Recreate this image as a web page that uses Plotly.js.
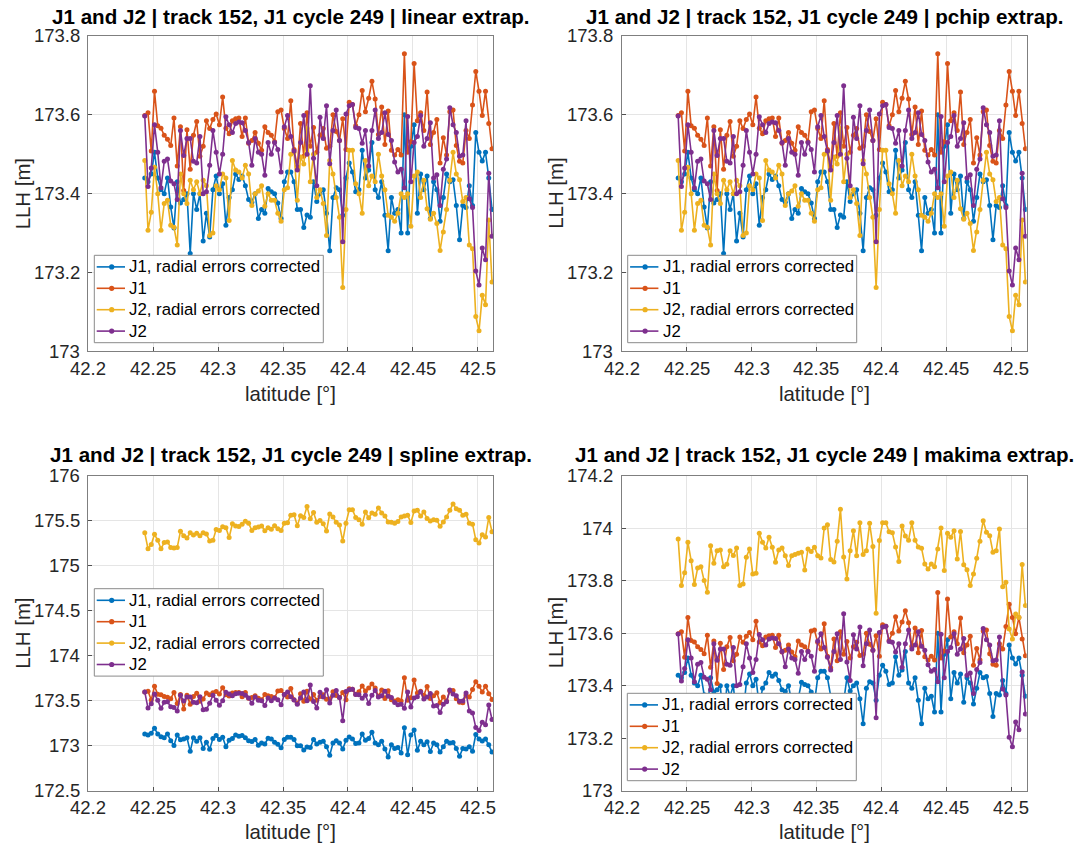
<!DOCTYPE html>
<html>
<head>
<meta charset="utf-8">
<script src="https://cdn.plot.ly/plotly-3.0.1.min.js"></script>
<style>
  html, body { margin: 0; padding: 0; background: #ffffff; }
  #chart { width: 1079px; height: 845px; }
</style>
</head>
<body>
<div id="chart"></div>
<script>
// ---------------- data ----------------
const latitude = [
  42.2435, 42.2460, 42.2485, 42.2510, 42.2535, 42.2560, 42.2585, 42.2610, 42.2635, 42.2660,
  42.2685, 42.2710, 42.2735, 42.2760, 42.2785, 42.2810, 42.2835, 42.2860, 42.2885, 42.2910,
  42.2935, 42.2960, 42.2985, 42.3010, 42.3035, 42.3060, 42.3085, 42.3110, 42.3135, 42.3160,
  42.3185, 42.3210, 42.3235, 42.3260, 42.3285, 42.3310, 42.3335, 42.3360, 42.3385, 42.3410,
  42.3435, 42.3460, 42.3485, 42.3510, 42.3535, 42.3560, 42.3585, 42.3610, 42.3635, 42.3660,
  42.3685, 42.3710, 42.3735, 42.3760, 42.3785, 42.3810, 42.3835, 42.3860, 42.3885, 42.3910,
  42.3935, 42.3960, 42.3985, 42.4010, 42.4035, 42.4060, 42.4085, 42.4110, 42.4135, 42.4160,
  42.4185, 42.4210, 42.4235, 42.4260, 42.4285, 42.4310, 42.4335, 42.4360, 42.4385, 42.4410,
  42.4435, 42.4460, 42.4485, 42.4510, 42.4535, 42.4560, 42.4585, 42.4610, 42.4635, 42.4660,
  42.4685, 42.4710, 42.4735, 42.4760, 42.4785, 42.4810, 42.4835, 42.4860, 42.4885, 42.4910,
  42.4935, 42.4960, 42.4985, 42.5010, 42.5035, 42.5060, 42.5085, 42.5110
];

// J1 (uncorrected) - same in all four panels
const j1 = [
  173.598, 173.605, 173.508, 173.660, 173.572, 173.566, 173.548, 173.538, 173.522, 173.592,
  173.470, 173.570, 173.408, 173.562, 173.462, 173.548, 173.583, 173.495, 173.520, 173.585,
  173.565, 173.588, 173.602, 173.575, 173.645, 173.566, 173.552, 173.585, 173.590, 173.592,
  173.545, 173.592, 173.528, 173.535, 173.555, 173.528, 173.510, 173.570, 173.555, 173.548,
  173.532, 173.608, 173.612, 173.565, 173.540, 173.636, 173.512, 173.468, 173.578, 173.495,
  173.605, 173.520, 173.568, 173.505, 173.548, 173.565, 173.515, 173.520, 173.600, 173.558,
  173.535, 173.590, 173.512, 173.632, 173.626, 173.572, 173.600, 173.662, 173.608, 173.642,
  173.685, 173.640, 173.550, 173.620, 173.525, 173.610, 173.510, 173.498, 173.512, 173.498,
  173.755, 173.505, 173.532, 173.730, 173.585, 173.605, 173.560, 173.658, 173.525, 173.555,
  173.588, 173.478, 173.542, 173.498, 173.608, 173.612, 173.522, 173.482, 173.478, 173.560,
  173.540, 173.625, 173.710, 173.660, 173.598, 173.660, 173.578, 173.514
];

// J2 (uncorrected) - same in all four panels
const j2 = [
  173.597, 173.418, 173.465, 173.575, 173.505, 173.415, 173.482, 173.488, 173.432, 173.425,
  173.385, 173.560, 173.497, 173.540, 173.540, 173.482, 173.478, 173.545, 173.400, 173.405,
  173.472, 173.560, 173.505, 173.450, 173.500, 173.595, 173.575, 173.555, 173.578, 173.582,
  173.580, 173.560, 173.530, 173.472, 173.540, 173.505, 173.500, 173.447, 173.530, 173.500,
  173.530, 173.512, 173.455, 173.570, 173.598, 173.545, 173.508, 173.460, 173.530, 173.598,
  173.500, 173.674, 173.490, 173.420, 173.594, 173.540, 173.623, 173.476, 173.560, 173.612,
  173.535, 173.278, 173.602, 173.623, 173.626, 173.568, 173.565, 173.528, 173.560, 173.470,
  173.560, 173.612, 173.540, 173.555, 173.605, 173.550, 173.535, 173.480, 173.455, 173.462,
  173.415, 173.596, 173.430, 173.530, 173.545, 173.598, 173.520, 173.540, 173.580, 173.440,
  173.448, 173.370, 173.462, 173.488, 173.618, 173.575, 173.555, 173.495, 173.498, 173.585,
  173.387, 173.365, 173.204, 173.168, 173.262, 173.232, 173.452, 173.292
];

// J1, radial errors corrected - linear extrapolation
const j1cLinear = [
  173.440, 173.430, 173.450, 173.505, 173.440, 173.410, 173.400, 173.440, 173.366, 173.313,
  173.430, 173.376, 173.385, 173.400, 173.248, 173.400, 173.360, 173.400, 173.280, 173.350,
  173.290, 173.410, 173.445, 173.400, 173.425, 173.320, 173.390, 173.410, 173.450, 173.436,
  173.445, 173.420, 173.385, 173.378, 173.400, 173.337, 173.360, 173.350, 173.413, 173.405,
  173.400, 173.376, 173.337, 173.430, 173.455, 173.455, 173.430, 173.360, 173.360, 173.314,
  173.346, 173.340, 173.430, 173.380, 173.400, 173.410, 173.350, 173.255, 173.390, 173.415,
  173.410, 173.345, 173.440, 173.478, 173.455, 173.405, 173.410, 173.510, 173.440, 173.460,
  173.530, 173.410, 173.390, 173.430, 173.345, 173.255, 173.390, 173.350, 173.360, 173.300,
  173.600, 173.300, 173.520, 173.575, 173.350, 173.450, 173.410, 173.445, 173.337, 173.430,
  173.410, 173.330, 173.390, 173.450, 173.430, 173.435, 173.370, 173.283, 173.370, 173.365,
  173.420, 173.370, 173.555, 173.505, 173.483, 173.505, 173.440, 173.360
];

// J2, radial errors corrected - linear extrapolation
const j2cLinear = [
  173.484, 173.307, 173.353, 173.467, 173.400, 173.307, 173.375, 173.383, 173.320, 173.315,
  173.270, 173.450, 173.400, 173.375, 173.434, 173.410, 173.430, 173.400, 173.434, 173.420,
  173.294, 173.300, 173.420, 173.410, 173.450, 173.440, 173.332, 173.484, 173.460, 173.455,
  173.440, 173.472, 173.450, 173.370, 173.400, 173.407, 173.420, 173.368, 173.400, 173.383,
  173.383, 173.350, 173.330, 173.410, 173.415, 173.500, 173.505, 173.383, 173.493, 173.475,
  173.565, 173.430, 173.500, 173.390, 173.410, 173.375, 173.294, 173.484, 173.450, 173.390,
  173.340, 173.162, 173.360, 173.510, 173.510, 173.425, 173.400, 173.350, 173.484, 173.420,
  173.445, 173.430, 173.500, 173.445, 173.410, 173.345, 173.340, 173.330, 173.350, 173.400,
  173.390, 173.400, 173.317, 173.445, 173.455, 173.390, 173.434, 173.362, 173.335, 173.350,
  173.324, 173.256, 173.303, 173.360, 173.434, 173.505, 173.450, 173.435, 173.380, 173.390,
  173.270, 173.260, 173.088, 173.052, 173.142, 173.118, 173.333, 173.176
];

// pchip extrapolation: visually identical to the linear panel
const j1cPchip = j1cLinear;
const j2cPchip = j2cLinear;

// J1, radial errors corrected - spline extrapolation
const j1cSpline = [
  173.130, 173.120, 173.140, 173.195, 173.130, 173.100, 173.090, 173.130, 173.056, 173.003,
  173.120, 173.066, 173.075, 173.090, 172.938, 173.090, 173.050, 173.090, 172.970, 173.040,
  172.960, 173.080, 173.115, 173.070, 173.095, 172.990, 173.060, 173.080, 173.120, 173.106,
  173.115, 173.090, 173.055, 173.048, 173.070, 173.007, 173.030, 173.020, 173.083, 173.075,
  173.040, 173.016, 172.977, 173.070, 173.095, 173.095, 173.070, 173.000, 173.000, 172.954,
  172.986, 172.980, 173.070, 173.020, 173.040, 173.050, 172.990, 172.895, 173.030, 173.055,
  173.030, 172.965, 173.060, 173.098, 173.075, 173.025, 173.030, 173.130, 173.060, 173.080,
  173.150, 173.030, 173.010, 173.050, 172.965, 172.875, 173.010, 172.970, 172.980, 172.920,
  173.200, 172.900, 173.120, 173.175, 172.950, 173.050, 173.010, 173.045, 172.937, 173.030,
  173.010, 172.930, 172.990, 173.050, 173.030, 173.035, 172.970, 172.883, 172.970, 172.965,
  172.990, 172.940, 173.125, 173.075, 173.053, 173.075, 173.010, 172.930
];

// J2, radial errors corrected - spline extrapolation
const j2cSpline = [
  175.364, 175.187, 175.233, 175.347, 175.280, 175.187, 175.255, 175.263, 175.200, 175.195,
  175.200, 175.380, 175.330, 175.305, 175.364, 175.340, 175.360, 175.330, 175.364, 175.350,
  175.274, 175.280, 175.400, 175.390, 175.430, 175.420, 175.312, 175.464, 175.440, 175.435,
  175.460, 175.492, 175.470, 175.390, 175.420, 175.427, 175.440, 175.388, 175.420, 175.403,
  175.443, 175.410, 175.390, 175.470, 175.475, 175.560, 175.565, 175.443, 175.553, 175.535,
  175.655, 175.520, 175.590, 175.480, 175.500, 175.465, 175.384, 175.574, 175.540, 175.480,
  175.450, 175.272, 175.470, 175.620, 175.620, 175.535, 175.510, 175.460, 175.594, 175.530,
  175.585, 175.570, 175.640, 175.585, 175.550, 175.485, 175.480, 175.470, 175.490, 175.540,
  175.550, 175.560, 175.477, 175.605, 175.615, 175.550, 175.594, 175.522, 175.495, 175.510,
  175.504, 175.436, 175.483, 175.540, 175.614, 175.685, 175.630, 175.615, 175.560, 175.570,
  175.470, 175.460, 175.288, 175.252, 175.342, 175.318, 175.533, 175.376
];

// makima extrapolation: J1 corrected matches the linear panel
const j1cMakima = j1cLinear;

// J2, radial errors corrected - makima extrapolation
const j2cMakima = [
  173.958, 173.781, 173.830, 173.946, 173.876, 173.785, 173.848, 173.853, 173.800, 173.756,
  173.933, 173.866, 173.914, 173.916, 173.853, 173.862, 173.914, 173.896, 173.924, 173.781,
  173.787, 173.889, 173.920, 173.825, 173.828, 173.980, 173.946, 173.924, 173.965, 173.927,
  173.870, 173.916, 173.924, 173.895, 173.857, 173.895, 173.899, 173.904, 173.908, 173.840,
  173.920, 173.911, 173.927, 173.895, 173.886, 174.000, 174.013, 173.880, 173.871, 173.950,
  174.072, 173.890, 173.806, 173.914, 173.990, 173.895, 174.020, 173.899, 173.914, 174.018,
  173.930, 173.676, 173.953, 174.020, 174.020, 173.986, 173.982, 173.928, 173.873, 174.008,
  173.970, 173.954, 174.020, 173.954, 173.928, 173.923, 173.863, 173.844, 173.863, 173.853,
  173.920, 174.000, 173.838, 173.980, 173.965, 173.990, 173.882, 173.987, 173.860, 173.841,
  173.781, 173.825, 173.885, 173.950, 174.028, 173.984, 173.971, 173.908, 173.914, 173.996,
  173.777, 173.794, 173.616, 173.578, 173.673, 173.660, 173.861, 173.705
];

const seriesNames = ['J1, radial errors corrected', 'J1', 'J2, radial errors corrected', 'J2'];
const panelTitles = [
  'J1 and J2 | track 152, J1 cycle 249 | linear extrap.',
  'J1 and J2 | track 152, J1 cycle 249 | pchip extrap.',
  'J1 and J2 | track 152, J1 cycle 249 | spline extrap.',
  'J1 and J2 | track 152, J1 cycle 249 | makima extrap.'
];
const xTickVals = [42.2, 42.25, 42.3, 42.35, 42.4, 42.45, 42.5];
const xTickText = ['42.2', '42.25', '42.3', '42.35', '42.4', '42.45', '42.5'];
const yTickValsTop = [173, 173.2, 173.4, 173.6, 173.8];
const yTickTextTop = ['173', '173.2', '173.4', '173.6', '173.8'];
const yTickValsSpline = [172.5, 173, 173.5, 174, 174.5, 175, 175.5, 176];
const yTickTextSpline = ['172.5', '173', '173.5', '174', '174.5', '175', '175.5', '176'];
const yTickValsMakima = [173, 173.2, 173.4, 173.6, 173.8, 174, 174.2];
const yTickTextMakima = ['173', '173.2', '173.4', '173.6', '173.8', '174', '174.2'];
const xLabel = 'latitude [°]';
const yLabel = 'LLH [m]';

// ---------------- styling ----------------
const W = 1079, H = 845;
const colors = ['#0072BD', '#D95319', '#EDB120', '#7E2F8E'];
const FONT = 'Liberation Sans, Arial, Helvetica, sans-serif';
const TXT = '#262626';
const TICKFS = 18.5, LABELFS = 20.4, TITLEFS = 20.6, LEGFS = 16.8;

const panels = [
  {corr1: j1cLinear, corr2: j2cLinear, x0: 88.3, y0: 36.0, yr: [173, 173.8], tv: yTickValsTop, tt: yTickTextTop,
   leg: [94.3, 255.3], xTitleOff: 43, titleOff: 19.5},
  {corr1: j1cPchip, corr2: j2cPchip, x0: 621.7, y0: 36.0, yr: [173, 173.8], tv: yTickValsTop, tt: yTickTextTop,
   leg: [627.7, 255.3], xTitleOff: 43, titleOff: 19.5},
  {corr1: j1cSpline, corr2: j2cSpline, x0: 88.3, y0: 475.5, yr: [172.5, 176], tv: yTickValsSpline, tt: yTickTextSpline,
   leg: [94.3, 588.7], xTitleOff: 41.5, titleOff: 21.5},
  {corr1: j1cMakima, corr2: j2cMakima, x0: 621.7, y0: 475.5, yr: [173, 174.2], tv: yTickValsMakima, tt: yTickTextMakima,
   leg: [627.3, 693.3], xTitleOff: 41.5, titleOff: 21.5}
];
const PW = 405, PH = 315.3;
const LEGW = 229, LEGH = 87.4;
const XLAB_OFF = 17;

const traces = [];
const shapes = [];
const annotations = [];
const layout = {
  width: W, height: H,
  margin: {l: 0, r: 0, t: 0, b: 0},
  paper_bgcolor: '#ffffff',
  plot_bgcolor: '#ffffff',
  font: {family: FONT, color: TXT, size: 17},
  showlegend: false,
  shapes: shapes,
  annotations: annotations
};
const px = v => v / W;
const py = v => 1 - v / H;

panels.forEach((p, i) => {
  const n = i + 1;
  const xa = n === 1 ? 'x' : 'x' + n;
  const ya = n === 1 ? 'y' : 'y' + n;
  const ys = [p.corr1, j1, p.corr2, j2];
  ys.forEach((yv, s) => {
    traces.push({
      type: 'scatter', mode: 'lines+markers',
      x: latitude, y: yv,
      xaxis: xa, yaxis: ya,
      name: seriesNames[s],
      line: {color: colors[s], width: 1.6},
      marker: {color: colors[s], size: 5},
      hoverinfo: 'skip'
    });
  });

  const axCommon = {
    showline: true, mirror: true, linecolor: '#7f7f7f', linewidth: 1,
    ticks: 'inside', ticklen: 4, tickcolor: '#505050', tickwidth: 1,
    showgrid: true, gridcolor: '#e5e5e5', gridwidth: 1,
    zeroline: false, showticklabels: false
  };
  const axBottom = p.y0 + PH;
  layout['xaxis' + (n === 1 ? '' : n)] = Object.assign({}, axCommon, {
    domain: [px(p.x0), px(p.x0 + PW)],
    range: [42.2, 42.512],
    anchor: ya,
    tickmode: 'array', tickvals: xTickVals
  });
  layout['yaxis' + (n === 1 ? '' : n)] = Object.assign({}, axCommon, {
    domain: [py(axBottom), py(p.y0)],
    range: p.yr,
    anchor: xa,
    tickmode: 'array', tickvals: p.tv
  });

  // x tick labels
  xTickVals.forEach((v, t) => {
    annotations.push({
      xref: xa, yref: 'paper', x: v, y: py(axBottom + XLAB_OFF),
      xanchor: 'center', yanchor: 'middle', showarrow: false,
      text: xTickText[t], font: {family: FONT, size: TICKFS, color: TXT}
    });
  });
  // y tick labels
  p.tv.forEach((v, t) => {
    annotations.push({
      xref: 'paper', yref: ya, x: px(p.x0 - 6.6), y: v,
      xanchor: 'right', yanchor: 'middle', showarrow: false,
      text: p.tt[t], font: {family: FONT, size: TICKFS, color: TXT}
    });
  });

  // panel title
  annotations.push({
    xref: 'paper', yref: 'paper',
    x: px(p.x0 + PW / 2), y: py(p.y0 - p.titleOff),
    xanchor: 'center', yanchor: 'middle', showarrow: false,
    text: '<b>' + panelTitles[i] + '</b>',
    font: {family: FONT, size: TITLEFS, color: '#000000'}
  });
  // x axis label
  annotations.push({
    xref: 'paper', yref: 'paper',
    x: px(p.x0 + PW / 2), y: py(axBottom + p.xTitleOff),
    xanchor: 'center', yanchor: 'middle', showarrow: false,
    text: xLabel,
    font: {family: FONT, size: LABELFS, color: TXT}
  });
  // y axis label
  annotations.push({
    xref: 'paper', yref: 'paper',
    x: px(p.x0 - 65.6), y: py(p.y0 + PH / 2),
    xanchor: 'center', yanchor: 'middle', showarrow: false, textangle: -90,
    text: yLabel,
    font: {family: FONT, size: LABELFS, color: TXT}
  });

  // legend box (drawn like MATLAB's)
  const lx = p.leg[0], ly = p.leg[1];
  shapes.push({
    type: 'rect', xref: 'paper', yref: 'paper', layer: 'above',
    x0: px(lx), x1: px(lx + LEGW), y0: py(ly + LEGH), y1: py(ly),
    fillcolor: '#ffffff', line: {color: '#8a8a8a', width: 1}
  });
  seriesNames.forEach((name, s) => {
    const ry = ly + 11.6 + 21.4 * s;
    shapes.push({
      type: 'line', xref: 'paper', yref: 'paper', layer: 'above',
      x0: px(lx + 2.4), x1: px(lx + 30.7), y0: py(ry), y1: py(ry),
      line: {color: colors[s], width: 1.6}
    });
    shapes.push({
      type: 'circle', xref: 'paper', yref: 'paper', layer: 'above',
      x0: px(lx + 17.4 - 2.6), x1: px(lx + 17.4 + 2.6), y0: py(ry + 2.6), y1: py(ry - 2.6),
      fillcolor: colors[s], line: {color: colors[s], width: 0}
    });
    annotations.push({
      xref: 'paper', yref: 'paper', x: px(lx + 33), y: py(ry),
      xanchor: 'left', yanchor: 'middle', showarrow: false,
      text: name, font: {family: FONT, size: LEGFS, color: '#000000'}
    });
  });
});

Plotly.newPlot('chart', traces, layout, {staticPlot: true, displayModeBar: false});
</script>
</body>
</html>
